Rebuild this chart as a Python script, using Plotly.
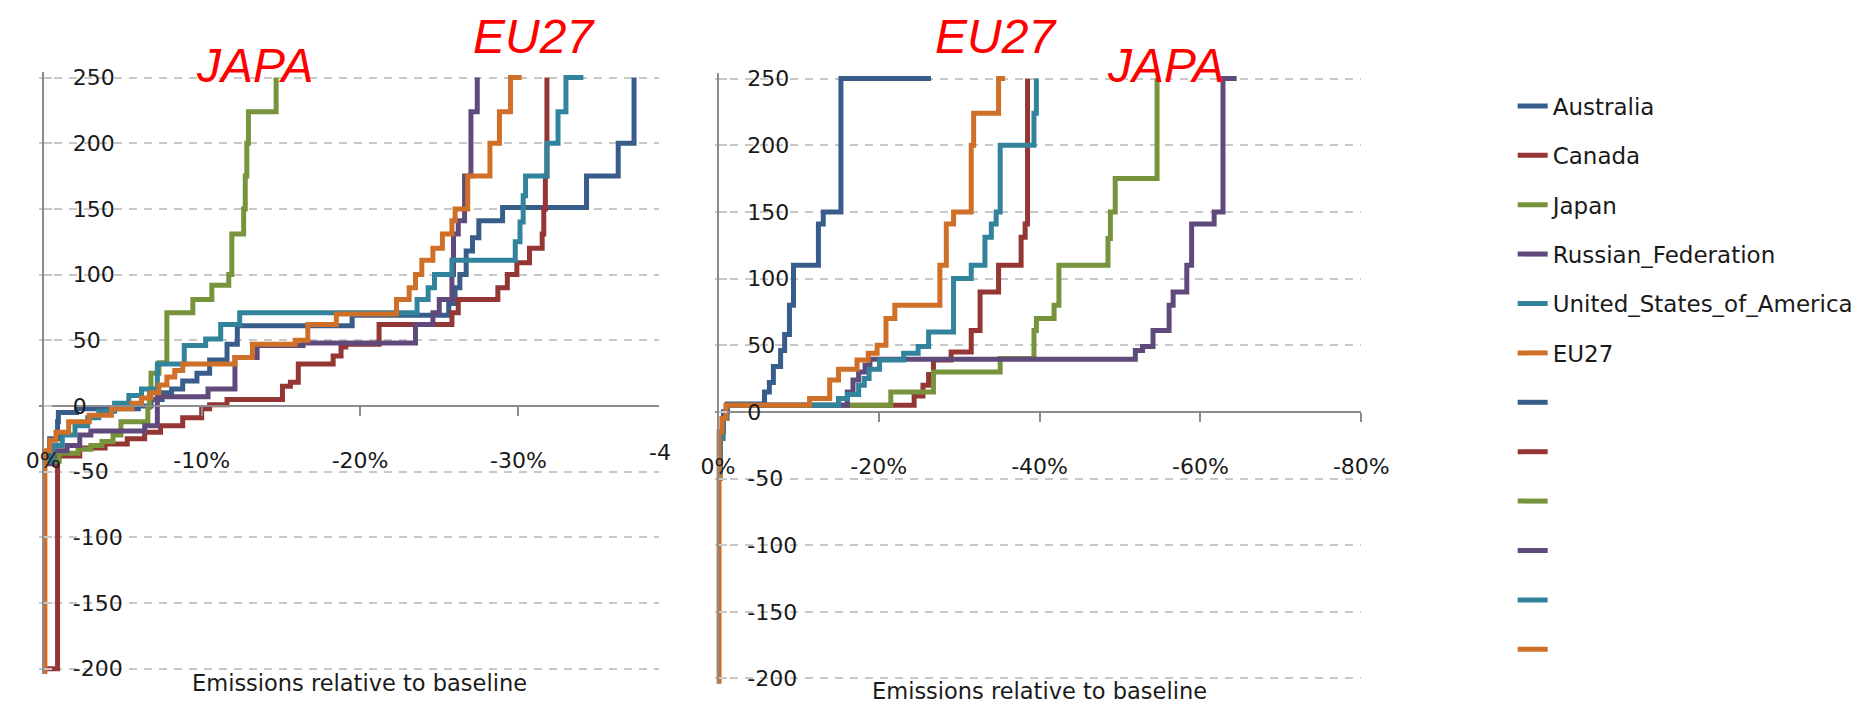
import plotly.graph_objects as go

W, H = 1876, 712

series_names = ["Australia", "Canada", "Japan", "Russian_Federation",
                "United_States_of_America", "EU27"]
colors = ["#385D8A", "#943634", "#77933C", "#604A7B", "#31849B", "#D07028"]

# ---------- Left panel (x: emissions relative to baseline, %, y: price) ----------
aus_l_x = [0, -0.4, -0.9, -0.95, -2.1, -6.0, -6.8, -7.5, -8.1, -8.8, -9.7, -10.5, -11.6, -12.25,
           -19.5, -25.6, -26.0, -26.3, -26.7, -27.1, -27.5, -29.0, -34.3, -36.3, -37.3]
aus_l_y = [-42, -25, -12, -5, -2, 0, 5, 10, 13, 19, 25, 35, 47, 61,
           69, 78, 90, 100, 118, 128, 141, 151, 175, 200, 250]

can_l_x = [0, -0.9, -2.3, -3.9, -5.3, -6.4, -7.4, -8.8, -10.0, -10.5, -11.6, -15.1, -15.6, -16.1,
           -18.3, -18.8, -19.1, -21.2, -25.8, -26.2, -28.7, -29.3, -29.9, -30.7, -31.5, -31.6, -31.7, -31.8]
can_l_y = [-200, -38, -32, -29, -25, -20, -15, -9, -2, 1, 5, 15, 18, 32,
           38, 45, 47, 62, 71, 81, 90, 100, 109, 120, 131, 150, 175, 250]

jpn_l_x = [0, -1.0, -2.2, -3.0, -3.7, -4.4, -4.9, -6.6, -6.7, -6.8, -7.3, -7.8, -9.44, -10.64,
           -11.71, -11.9, -12.65, -12.75, -12.85, -12.95, -14.7]
jpn_l_y = [-42, -36, -33, -30, -27, -22, -12, -1, 10, 25, 33, 71, 81, 92,
           100, 131, 150, 175, 200, 224, 250]

rus_l_x = [0, -0.6, -1.5, -2.3, -3.0, -6.4, -7.2, -10.4, -12.1, -13.5, -16.4, -23.5, -24.6, -25.0,
           -25.8, -25.9, -26.2, -26.6, -27.0, -27.4]
rus_l_y = [-44, -34, -30, -22, -19, -15, 7, 13, 37, 46, 48, 62, 71, 81,
           100, 131, 141, 175, 224, 250]

usa_l_x = [0, -0.6, -1.2, -2.0, -2.8, -3.5, -4.5, -5.4, -6.2, -7.2, -8.9, -10.25, -11.2, -12.4,
           -23.6, -24.3, -24.7, -25.8, -29.8, -30.1, -30.3, -30.45, -31.8, -32.5, -33.0, -34.1]
usa_l_y = [-42, -30, -22, -15, -9, -4, 2, 8, 13, 32, 46, 51, 62, 71,
           81, 90, 100, 111, 125, 140, 160, 175, 200, 224, 250, 250]

eu_l_x = [0, -0.1, -0.4, -0.8, -1.6, -2.9, -4.3, -5.6, -6.2, -6.8, -7.3, -7.8, -8.3, -8.8, -12.1,
          -13.2, -15.9, -16.7, -18.5, -22.3, -23.1, -23.5, -23.9, -24.6, -25.2, -25.8, -26.0,
          -26.8, -28.2, -28.8, -29.5, -30.2]
eu_l_y = [-260, -34, -26, -20, -12, -7, -2, 2, 6, 10, 16, 22, 27, 32, 37,
          47, 50, 62, 70, 81, 90, 100, 111, 120, 131, 141, 150,
          175, 200, 224, 250, 250]

# ---------- Right panel ----------
aus_r_x = [0, -0.3, -0.7, -1.2, -5.8, -6.4, -6.9, -7.8, -8.3, -8.9, -9.4, -12.5, -13.1, -15.3, -26.5]
aus_r_y = [-45, -15, 0, 6, 15, 22, 34, 46, 58, 80, 110, 141, 150, 250, 250]

can_r_x = [0, -0.3, -0.6, -1.1, -24.4, -25.5, -26.2, -26.8, -29.0, -31.5, -32.6, -34.9, -37.7, -38.2, -38.5]
can_r_y = [-45, -20, -5, 5, 12, 20, 28, 39, 45, 61, 90, 110, 131, 141, 250]

jpn_r_x = [0, -0.3, -0.6, -1.1, -21.5, -26.8, -35.1, -39.3, -39.6, -41.8, -42.4, -48.5, -48.8, -49.4, -54.6]
jpn_r_y = [-50, -20, -5, 5, 15, 30, 40, 61, 70, 80, 110, 130, 150, 175, 250]

rus_r_x = [0, -0.3, -0.6, -1.1, -16.1, -16.8, -17.5, -18.3, -18.9, -51.9, -52.8, -54.1, -56.1,
           -56.6, -58.3, -58.9, -61.7, -62.8, -64.5]
rus_r_y = [-45, -20, -5, 5, 15, 24, 30, 35, 39.5, 46, 49, 61, 80,
           90, 110, 141, 150, 250, 250]

usa_r_x = [0, -0.3, -0.6, -1.1, -15.0, -16.1, -17.5, -18.2, -18.8, -20.1, -23.1, -24.9, -26.2,
           -29.3, -31.5, -33.2, -34.0, -34.6, -35.1, -39.3, -39.6]
usa_r_y = [-45, -20, -5, 5, 10, 13, 20, 25, 32, 39, 44, 49, 60,
           100, 110, 131, 141, 150, 200, 224, 250]

eu_r_x = [0, -0.15, -0.5, -1.0, -11.4, -13.9, -15.0, -17.3, -18.7, -19.8, -20.9, -22.0, -27.6,
          -28.4, -29.3, -31.5, -31.8, -34.9, -35.7]
eu_r_y = [-260, -15, -5, 5, 10, 24, 32, 39, 44, 50, 70, 80, 110,
          141, 150, 200, 224, 250, 250]

y_tickvals = [-200, -150, -100, -50, 0, 50, 100, 150, 200, 250]
y_ticktext = ["-200", "-150", "-100", "-50", "0", "50", "100", "150", "200", "250"]
xl_tickvals = [0, -10, -20, -30]
xl_ticktext = ["0%", "-10%", "-20%", "-30%"]
xr_tickvals = [0, -20, -40, -60, -80]
xr_ticktext = ["0%", "-20%", "-40%", "-60%", "-80%"]
axis_title = "Emissions relative to baseline"

left_data = [(aus_l_x, aus_l_y), (can_l_x, can_l_y), (jpn_l_x, jpn_l_y),
             (rus_l_x, rus_l_y), (usa_l_x, usa_l_y), (eu_l_x, eu_l_y)]
right_data = [(aus_r_x, aus_r_y), (can_r_x, can_r_y), (jpn_r_x, jpn_r_y),
              (rus_r_x, rus_r_y), (usa_r_x, usa_r_y), (eu_r_x, eu_r_y)]

FONT = "DejaVu Sans"
LW = 5

fig = go.Figure()
for i, (xs, ys) in enumerate(left_data):
    fig.add_trace(go.Scatter(x=xs, y=ys, mode="lines", name=series_names[i],
                             line=dict(color=colors[i], width=LW, shape="hv"),
                             legendgroup="g%d" % i, xaxis="x", yaxis="y"))
for i, (xs, ys) in enumerate(right_data):
    fig.add_trace(go.Scatter(x=xs, y=ys, mode="lines", name=" ",
                             line=dict(color=colors[i], width=LW, shape="hv"),
                             legendgroup="h%d" % i, xaxis="x2", yaxis="y2"))


def px_x(p):
    return p / W


def px_y(p):
    return 1 - p / H


tickfont = dict(family=FONT, size=22, color="#1a1a1a")
titlefont = dict(family=FONT, size=22.5, color="#1a1a1a")
axcol = "#8c8c8c"
gridcol = "#c8c8c8"

common_x = dict(showline=True, linecolor=axcol, linewidth=2, ticks="outside", ticklen=9,
                tickwidth=2, tickcolor=axcol, showgrid=False, zeroline=False,
                tickfont=tickfont, tickmode="array", anchor="free", ticklabelstandoff=26)
common_y = dict(showline=True, linecolor=axcol, linewidth=2, ticks="outside", ticklen=8,
                tickwidth=2, tickcolor=gridcol, showgrid=True, gridcolor=gridcol, gridwidth=2,
                griddash="8px,7px", zeroline=False, tickfont=tickfont, tickmode="array",
                tickvals=y_tickvals, ticktext=y_ticktext, side="right",
                ticklabelstandoff=16, anchor="free", range=[-204, 254])

fig.update_layout(
    width=W, height=H,
    margin=dict(l=0, r=0, t=0, b=0),
    paper_bgcolor="white", plot_bgcolor="white",
    showlegend=True,
    xaxis=dict(common_x, domain=[px_x(25.14), px_x(660)], range=[0.3, -38.89],
               tickvals=xl_tickvals, ticktext=xl_ticktext, position=px_y(407)),
    yaxis=dict(common_y, domain=[px_y(680.4), px_y(66.6)], position=px_x(30)),
    xaxis2=dict(common_x, domain=[px_x(716.7), px_x(1378.2)], range=[0.4, -80],
                tickvals=xr_tickvals, ticktext=xr_ticktext, position=px_y(413)),
    yaxis2=dict(common_y, domain=[px_y(690.4), px_y(67.6)], position=px_x(720)),
    legend=dict(x=px_x(1533), xanchor="left", y=px_y(79), yanchor="top",
                font=dict(family=FONT, size=23, color="#1a1a1a"),
                tracegroupgap=16.5, bgcolor="rgba(0,0,0,0)"),
)

ann = []
ann.append(dict(text="-4", x=px_x(648), y=px_y(454), xref="paper", yref="paper",
                xanchor="left", yanchor="middle", showarrow=False, font=tickfont))
ann.append(dict(text=axis_title, x=px_x(353), y=px_y(690), xref="paper", yref="paper",
                xanchor="center", yanchor="middle", showarrow=False, font=titlefont))
ann.append(dict(text=axis_title, x=px_x(1049), y=px_y(698), xref="paper", yref="paper",
                xanchor="center", yanchor="middle", showarrow=False, font=titlefont))
red = dict(family="Liberation Sans", size=48, color="#FF0000")
for txt, lx, cy in [("JAPA", 184, 60), ("EU27", 467, 30), ("EU27", 940, 30), ("JAPA", 1116, 60)]:
    ann.append(dict(text="<i>%s</i>" % txt, x=px_x(lx), y=px_y(cy), xref="paper", yref="paper",
                    xanchor="left", yanchor="middle", showarrow=False, font=red))
fig.update_layout(annotations=ann)

fig.write_html("out.html", config={"displayModeBar": False},
               post_script="document.body.style.margin='0px';")
